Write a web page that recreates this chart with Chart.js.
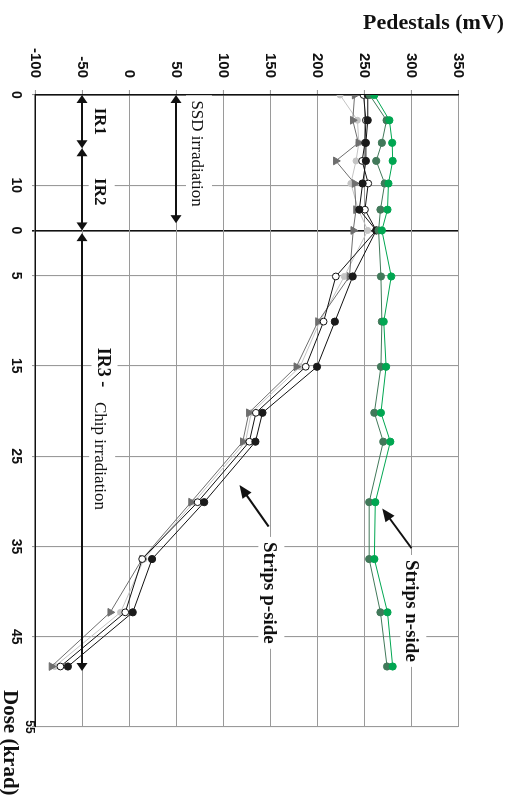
<!DOCTYPE html>
<html>
<head>
<meta charset="utf-8">
<script src="https://cdn.jsdelivr.net/npm/chart.js@4.4.0/dist/chart.umd.min.js"></script>
<style>
  html, body { margin: 0; padding: 0; background: #fff; }
  #page { position: relative; width: 508px; height: 800px; overflow: hidden; }
  /* chart is drawn lying down (dose along x) and turned a quarter clockwise */
  #rot { position: absolute; left: 0; top: 0; width: 800px; height: 508px;
         transform-origin: 0 0; transform: translateX(508px) rotate(90deg); }
</style>
</head>
<body>
<div id="page"><div id="rot"><canvas id="chart" width="800" height="508"></canvas></div></div>
<script>
// dose steps (krad): first the SSD irradiation, then the chip irradiation
const ssdDose = [0, 2.8, 5.3, 7.3, 9.8, 12.7];
const chipDose = [0, 5.1, 10.1, 15.1, 20.2, 23.4, 30.1, 36.4, 42.3, 48.3];
const SSD_END = 15; // where the chip dose axis restarts at 0

const doseTicks = [0, 10, 15, 20, 30, 40, 50, 60, 70];
const doseTickLabels = ['0', '10', '0', '5', '15', '25', '35', '45', '55'];

// pedestals (mV), one value per dose step
const nSideA = [261, 277, 280, 280.5, 276, 275, 269, 279, 271, 273.5, 268, 278, 262, 261, 275, 280.5];
const nSideB = [256, 274, 269, 263, 272, 267.5, 265.5, 268, 269, 268, 261, 270.5, 255.5, 255.5, 267.5, 274.5];
const pSideA = [254, 254, 252, 252, 248.5, 245, 263, 238, 219, 200, 142, 134.5, 80, 24.5, 4, -65];
const pSideB = [249.5, 252, 251, 248, 254.5, 251, 263, 220, 207, 188, 135, 128, 73, 14, -4, -73];
const pSideC = [240, 238, 244, 220, 240, 241.5, 238.5, 234.5, 201, 178, 127.5, 121, 66, 14, -20, -82.5];
const pSideD = [224.5, 243, 244.5, 241.5, 236, 244, 254, 229, 203, 182, 130, 124, 69, 16, -9, -79];

const doseAxis = ssdDose.concat(chipDose.map(d => SSD_END + d));
const toPoints = vals => vals.map((v, i) => ({ x: doseAxis[i], y: v }));

const series = [
  { label: 'n-side A', values: nSideA, line: '#00a651', fill: '#00a651', edge: '#00a651', style: 'circle', r: 3.6 },
  { label: 'n-side B', values: nSideB, line: '#41795a', fill: '#41795a', edge: '#41795a', style: 'circle', r: 3.6 },
  { label: 'p-side A', values: pSideA, line: '#111', fill: '#1a1a1a', edge: '#1a1a1a', style: 'circle', r: 3.6 },
  { label: 'p-side B', values: pSideB, line: '#111', fill: '#fff', edge: '#111', style: 'circle', r: 3.4 },
  { label: 'p-side C', values: pSideC, line: '#6e6e6e', fill: '#6e6e6e', edge: '#6e6e6e', style: 'triangle', r: 4.5 },
  { label: 'p-side D', values: pSideD, line: '#c4c4c4', fill: '#c4c4c4', edge: '#c4c4c4', style: 'circle', r: 3 },
];

const serif = '"Liberation Serif", "Times New Roman", serif';
const sans = '"Liberation Sans", Arial, sans-serif';

const notes = [
  { text: 'IR1', t: 1.4, mv: -36.5, font: 'bold 17px ' + serif },
  { text: 'IR2', t: 9.2, mv: -36.5, font: 'bold 17px ' + serif },
  { text: 'SSD irradiation', t: 0.6, mv: 67, font: '17px ' + serif },
  { text: 'IR3 -', t: 28.0, mv: -33.5, font: 'bold 18px ' + serif },
  { text: 'Chip irradiation', t: 34.0, mv: -36, font: '17px ' + serif },
  { text: 'Strips p-side', t: 49.5, mv: 144, font: 'bold 19px ' + serif },
  { text: 'Strips n-side', t: 51.5, mv: 295, font: 'bold 19px ' + serif },
];

function head(ctx, x, y, dx, dy, len, half) {
  ctx.beginPath();
  ctx.moveTo(x, y);
  ctx.lineTo(x - dx * len - dy * half, y - dy * len + dx * half);
  ctx.lineTo(x - dx * len + dy * half, y - dy * len - dx * half);
  ctx.closePath();
  ctx.fill();
}

function arrow(ctx, x1, y1, x2, y2, both, width, len, half) {
  const L = Math.hypot(x2 - x1, y2 - y1);
  const dx = (x2 - x1) / L, dy = (y2 - y1) / L;
  const s = both ? len * 0.6 : 0;
  ctx.lineWidth = width;
  ctx.beginPath();
  ctx.moveTo(x1 + dx * s, y1 + dy * s);
  ctx.lineTo(x2 - dx * len * 0.6, y2 - dy * len * 0.6);
  ctx.stroke();
  head(ctx, x2, y2, dx, dy, len, half);
  if (both) head(ctx, x1, y1, -dx, -dy, len, half);
}

const annotations = {
  id: 'annotations',
  beforeDatasetsDraw(chart) {
    const { ctx, scales: { x, y } } = chart;
    ctx.save();
    ctx.fillStyle = '#fff';
    notes.forEach(n => {
      ctx.font = n.font;
      const w = ctx.measureText(n.text).width;
      const u = x.getPixelForValue(n.t), v = y.getPixelForValue(n.mv);
      ctx.fillRect(u - 5, v - 20, w + 10, 26);
    });
    ctx.restore();
  },
  afterDatasetsDraw(chart) {
    const { ctx, scales: { x, y } } = chart;
    ctx.save();
    ctx.fillStyle = '#111';
    ctx.strokeStyle = '#111';
    const irV = y.getPixelForValue(-50);
    arrow(ctx, x.getPixelForValue(0), irV, x.getPixelForValue(5.9), irV, true, 2, 8, 5.5);
    arrow(ctx, x.getPixelForValue(5.9), irV, x.getPixelForValue(15), irV, true, 2, 8, 5.5);
    arrow(ctx, x.getPixelForValue(15.3), irV, x.getPixelForValue(63.8), irV, true, 2, 8, 5.5);
    const ssdV = y.getPixelForValue(50);
    arrow(ctx, x.getPixelForValue(0), ssdV, x.getPixelForValue(14.2), ssdV, true, 2, 8, 5.5);
    // pointers from the strip labels
    arrow(ctx, x.getPixelForValue(47.8), y.getPixelForValue(148.5), x.getPixelForValue(43.2), y.getPixelForValue(117.5), false, 2, 13, 5.5);
    arrow(ctx, x.getPixelForValue(50.2), y.getPixelForValue(300.5), x.getPixelForValue(45.8), y.getPixelForValue(269.5), false, 2, 13, 5.5);

    ctx.textAlign = 'left';
    ctx.textBaseline = 'alphabetic';
    notes.forEach(n => {
      ctx.font = n.font;
      ctx.fillText(n.text, x.getPixelForValue(n.t), y.getPixelForValue(n.mv));
    });

    // last dose label and axis titles
    ctx.font = 'bold 12px ' + sans;
    ctx.textAlign = 'center';
    ctx.textBaseline = 'middle';
    ctx.fillText('55', x.getPixelForValue(70), 479);
    ctx.font = 'bold 21px ' + serif;
    ctx.textAlign = 'left';
    ctx.textBaseline = 'alphabetic';
    ctx.fillText('Dose (krad)', 690, 504);
    ctx.translate(29, 145);
    ctx.rotate(-Math.PI / 2);
    ctx.font = 'bold 22px ' + serif;
    ctx.fillText('Pedestals (mV)', 0, 0);
    ctx.restore();
  }
};

new Chart(document.getElementById('chart'), {
  type: 'scatter',
  data: {
    datasets: series.map(s => ({
      label: s.label,
      data: toPoints(s.values),
      showLine: true,
      borderColor: s.line,
      borderWidth: 1,
      pointStyle: s.style,
      pointRadius: s.r,
      pointBackgroundColor: s.fill,
      pointBorderColor: s.edge,
      pointBorderWidth: 1,
    })),
  },
  options: {
    responsive: false,
    animation: false,
    layout: { padding: { top: 50, right: 73, left: 0, bottom: 0 } },
    plugins: { legend: { display: false }, tooltip: { enabled: false } },
    scales: {
      x: {
        type: 'linear',
        min: 0,
        max: 70,
        afterBuildTicks: axis => { axis.ticks = doseTicks.map(v => ({ value: v })); },
        afterFit: axis => { axis.height = 35; },
        ticks: {
          autoSkip: false,
          maxRotation: 0,
          padding: 8,
          color: '#111',
          font: { family: sans, size: 14, weight: 'bold' },
          callback: v => (v === 70 ? '' : doseTickLabels[doseTicks.indexOf(v)]),
        },
        grid: {
          color: c => (c.tick && c.tick.value === SSD_END ? '#111' : '#9a9a9a'),
          lineWidth: c => (c.tick && c.tick.value === SSD_END ? 1.6 : 1.1),
          tickLength: 3,
        },
        border: { color: '#111', width: 1.6 },
      },
      y: {
        min: -100,
        max: 350,
        afterFit: axis => { axis.width = 95; },
        ticks: {
          stepSize: 50,
          padding: 12,
          color: '#111',
          font: { family: sans, size: 15, weight: 'bold' },
        },
        grid: { color: '#9a9a9a', lineWidth: 1.1, tickLength: 5 },
        border: { color: '#111', width: 1.6 },
      },
    },
  },
  plugins: [annotations],
});
</script>
</body>
</html>
